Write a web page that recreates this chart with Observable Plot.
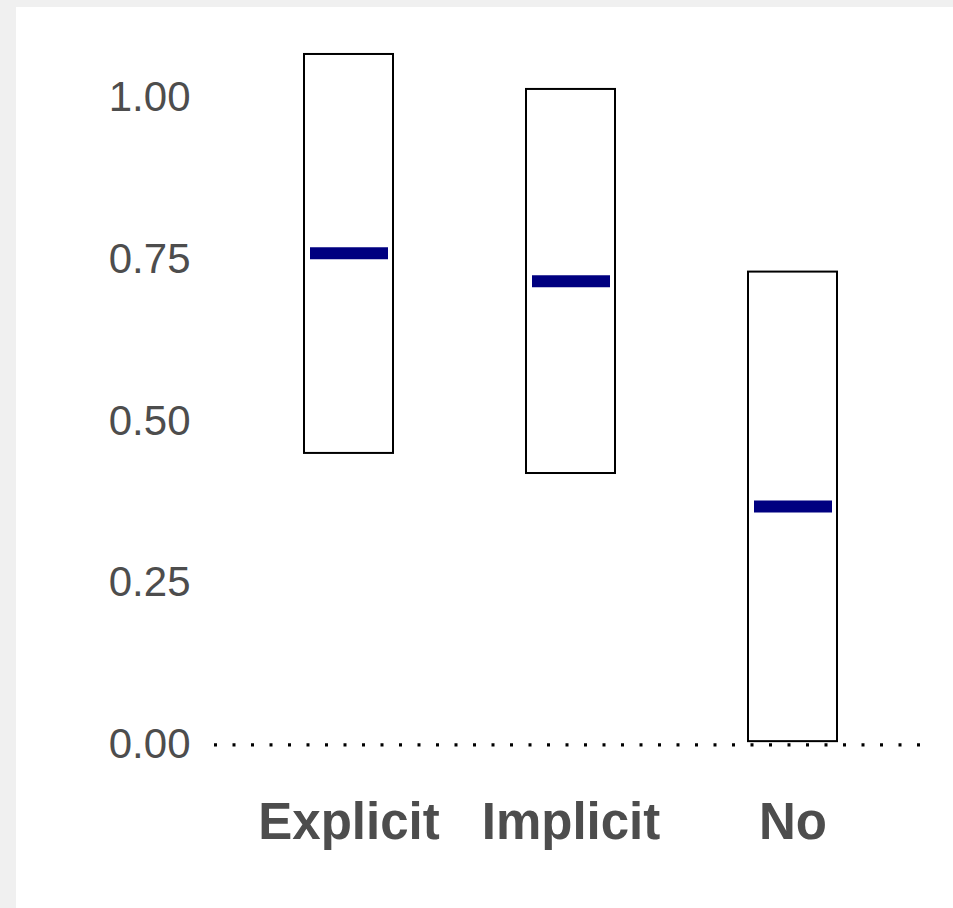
<!DOCTYPE html>
<html>
<head>
<meta charset="utf-8">
<script src="https://cdn.jsdelivr.net/npm/d3@7"></script>
<script src="https://cdn.jsdelivr.net/npm/@observablehq/plot@0.6"></script>
<style>
  html, body { margin: 0; padding: 0; background: #f0f0f0; width: 953px; height: 908px; overflow: hidden; }
  #chart { position: absolute; left: 16px; top: 7px; }
  #chart svg { background: #ffffff; display: block; }
  g[aria-label="y-axis tick label"] { font-size: 42px; fill: #4d4d4d; }
  g[aria-label="x-axis tick label"] { font-size: 51px; font-weight: bold; fill: #4d4d4d; }
</style>
</head>
<body>
<div id="chart"></div>
<script>
const categories = ["Explicit", "Implicit", "No"];
const means = [0.759, 0.716, 0.368];
const lower = [0.450, 0.419, 0.005];
const upper = [1.066, 1.012, 0.730];
const yTicks = [0, 0.25, 0.5, 0.75, 1];

const data = categories.map((c, i) => ({cat: c, mean: means[i], lo: lower[i], hi: upper[i]}));

const chart = Plot.plot({
  width: 937,
  height: 901,
  marginLeft: 198,
  marginRight: 27,
  marginTop: 12,
  marginBottom: 128,
  style: {fontFamily: "'Liberation Sans', Arial, Helvetica, sans-serif", background: "#ffffff"},
  x: {domain: categories, paddingInner: 0.6, paddingOuter: 0.4, label: null},
  y: {domain: [-0.055, 1.12], label: null},
  marks: [
    Plot.ruleY([0], {stroke: "black", strokeWidth: 3.2, strokeDasharray: "3,15.5", strokeLinecap: "butt"}),
    Plot.barY(data, {x: "cat", y1: "lo", y2: "hi", fill: "white", stroke: "black", strokeWidth: 2}),
    Plot.tickY(data, {x: "cat", y: "mean", stroke: "#000080", strokeWidth: 12, insetLeft: 6, insetRight: 5}),
    Plot.axisY({ticks: yTicks, tickFormat: d3.format(".2f"), tickSize: 0, tickPadding: 24, label: null}),
    Plot.axisX({tickSize: 0, tickPadding: 22, label: null})
  ]
});
document.getElementById("chart").appendChild(chart);
</script>
</body>
</html>
